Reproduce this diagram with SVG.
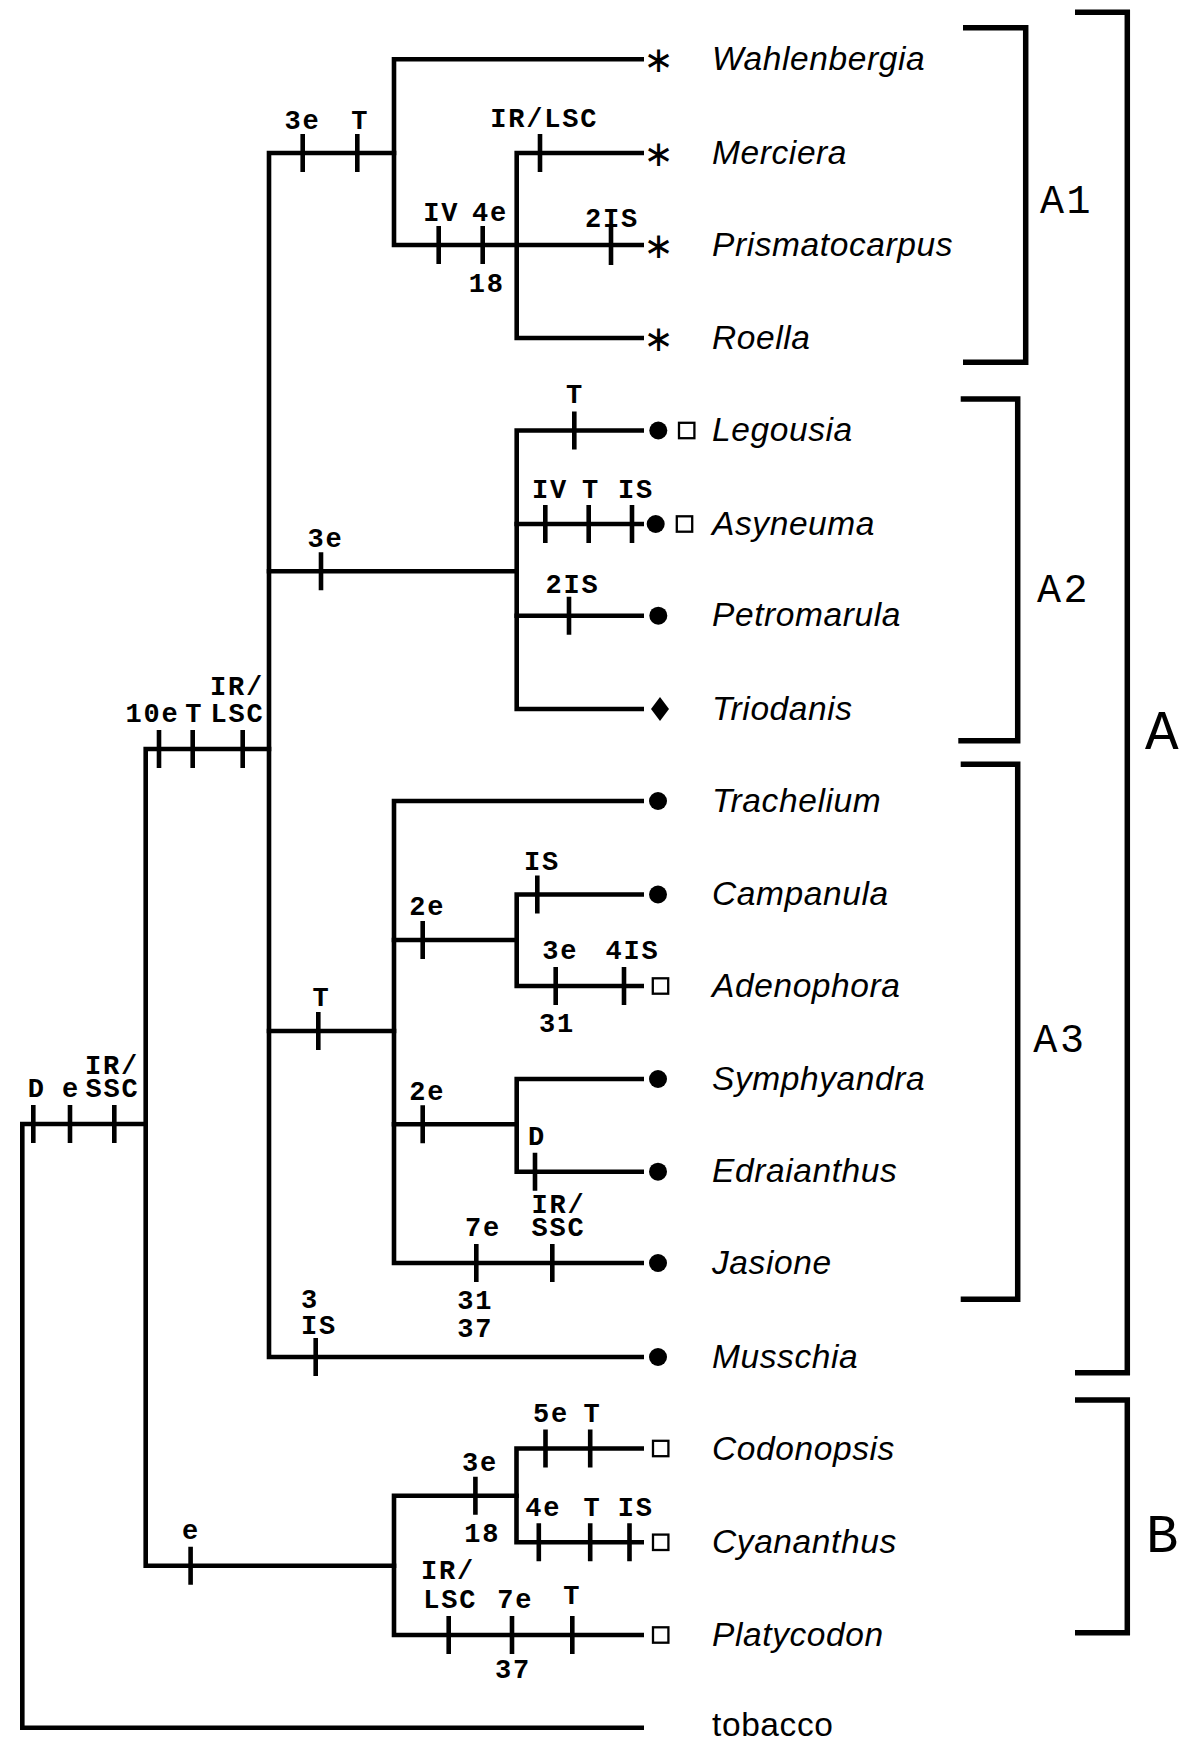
<svg xmlns="http://www.w3.org/2000/svg" width="1196" height="1749" viewBox="0 0 1196 1749">
<style>
.br{fill:none;stroke:#000;stroke-width:4.6;stroke-linecap:square;stroke-linejoin:miter}
.tk{stroke:#000;stroke-width:4.6}
.bk{fill:none;stroke:#000;stroke-width:5.5;stroke-linejoin:miter}
.lb{font-family:"Liberation Mono","Courier New",monospace;font-weight:bold;font-size:27px;letter-spacing:1.8px;text-anchor:middle;fill:#000}
.ls{font-family:"Liberation Mono","Courier New",monospace;font-weight:bold;font-size:27px;letter-spacing:1.8px;fill:#000}
.tx{font-family:"Liberation Sans",Arial,Helvetica,sans-serif;font-style:italic;font-size:33.5px;letter-spacing:0.6px;fill:#000}
.tb{font-family:"Liberation Sans",Arial,Helvetica,sans-serif;font-size:33.5px;letter-spacing:0.6px;fill:#000}
.cl{font-family:"Liberation Mono","Courier New",monospace;font-size:40px;letter-spacing:2.6px;fill:#000}
.ast{font-family:"DejaVu Sans",sans-serif;font-size:36px;text-anchor:middle;fill:#000}
.sq{fill:#fff;stroke:#000;stroke-width:2.3}
</style>
<g id="connectors">
<path class="br" d="M145.7 1124 H22.3 V1727.7 H641.7"/>
<path class="br" d="M269 749 H145.7 V1565.7 H394"/>
<path class="br" d="M394 153 H269 V1357 H641.7"/>
<path class="br" d="M269 571.3 H516.7"/>
<path class="br" d="M269 1031 H394"/>
<path class="br" d="M641.7 59.3 H394 V245 H641.7"/>
<path class="br" d="M641.7 153 H516.7 V338 H641.7"/>
<path class="br" d="M641.7 430.5 H516.7 V709 H641.7"/>
<path class="br" d="M516.7 524 H641.7 M516.7 615.7 H641.7"/>
<path class="br" d="M641.7 801 H394 V1263 H641.7"/>
<path class="br" d="M394 940 H516.7"/>
<path class="br" d="M641.7 894.5 H516.7 V986 H641.7"/>
<path class="br" d="M394 1124.3 H516.7"/>
<path class="br" d="M641.7 1079 H516.7 V1171.7 H641.7"/>
<path class="br" d="M516.5 1495.7 H394 V1635 H641.7"/>
<path class="br" d="M641.7 1448.5 H516.5 V1542.3 H641.7"/>
</g>
<g id="character-ticks">
<path class="tk" d="M302.7 134 v38 M357.3 134 v38 M540 134 v38 M438.7 226 v38 M482.7 226 v38 M611 227 v38
M321 552.3 v38 M574.3 411.5 v38 M545.3 505 v38 M588.7 505 v38 M632 505 v38 M569 596.7 v38
M318.3 1012 v38 M422.7 921 v38 M537.3 875.5 v38 M555.7 967 v38 M624 967 v38 M422.7 1105.3 v38 M535 1152.7 v38 M476.3 1244 v38 M552.3 1244 v38 M315.7 1338 v38
M159 730 v38 M192.7 730 v38 M242.7 730 v38 M33.3 1105 v38 M70 1105 v38 M114.3 1105 v38
M190.6 1546.7 v38 M475.4 1476.7 v38 M545.5 1429.5 v38 M590.2 1429.5 v38 M538.8 1523.3 v38 M590.2 1523.3 v38 M629.5 1523.3 v38 M448.7 1616 v38 M512 1616 v38 M572.3 1616 v38"/>
</g>
<g id="character-labels">
<text class="lb" x="302.6" y="129">3e</text>
<text class="lb" x="360.2" y="129">T</text>
<text class="lb" x="544.2" y="126.7">IR/LSC</text>
<text class="lb" x="441.2" y="220.7">IV</text>
<text class="lb" x="489.9" y="220.7">4e</text>
<text class="lb" x="486.7" y="292.3">18</text>
<text class="lb" x="611.9" y="226.7">2IS</text>
<text class="lb" x="574.9" y="403.3">T</text>
<text class="lb" x="549.9" y="497.7">IV</text>
<text class="lb" x="590.9" y="497.7">T</text>
<text class="lb" x="635.9" y="497.7">IS</text>
<text class="lb" x="325.4" y="546.7">3e</text>
<text class="lb" x="572.6" y="593.3">2IS</text>
<text class="lb" x="321.6" y="1006">T</text>
<text class="lb" x="427.2" y="915">2e</text>
<text class="lb" x="541.9" y="870">IS</text>
<text class="lb" x="560.2" y="959">3e</text>
<text class="lb" x="632.6" y="959">4IS</text>
<text class="lb" x="556.9" y="1032.3">31</text>
<text class="lb" x="427.2" y="1100">2e</text>
<text class="lb" x="536.9" y="1145">D</text>
<text class="lb" x="558.4" y="1212.7">IR/<tspan x="558.4" dy="23.3">SSC</tspan></text>
<text class="lb" x="482.9" y="1236">7e</text>
<text class="lb" x="475.2" y="1309">31<tspan x="475.2" dy="27.7">37</tspan></text>
<text class="ls" x="301" y="1307.7">3<tspan x="301" dy="26.3">IS</tspan></text>
<text class="lb" x="152.4" y="721.7">10e</text>
<text class="lb" x="194.2" y="721.7">T</text>
<text class="lb" x="236.9" y="695">IR/<tspan x="237.4" dy="26.7">LSC</tspan></text>
<text class="lb" x="36.7" y="1096.7">D</text>
<text class="lb" x="70.9" y="1096.7">e</text>
<text class="lb" x="111.9" y="1074.2">IR/<tspan x="112.6" dy="22.5">SSC</tspan></text>
<text class="lb" x="190.9" y="1539.3">e</text>
<text class="lb" x="479.9" y="1470.7">3e</text>
<text class="lb" x="482.2" y="1541.7">18</text>
<text class="lb" x="550.9" y="1422.3">5e</text>
<text class="lb" x="592.4" y="1422.3">T</text>
<text class="lb" x="543.3" y="1516">4e</text>
<text class="lb" x="592.4" y="1516">T</text>
<text class="lb" x="635.7" y="1516">IS</text>
<text class="lb" x="447.9" y="1579">IR/<tspan x="450.2" dy="28.7">LSC</tspan></text>
<text class="lb" x="515.2" y="1607.7">7e</text>
<text class="lb" x="572.3" y="1604">T</text>
<text class="lb" x="512.9" y="1677.7">37</text>
</g>
<g id="taxon-Wahlenbergia"><text class="ast" x="658.3" y="72">∗</text><text class="tx" x="712" y="69.8">Wahlenbergia</text></g>
<g id="taxon-Merciera"><text class="ast" x="658.3" y="166">∗</text><text class="tx" x="712" y="163.5">Merciera</text></g>
<g id="taxon-Prismatocarpus"><text class="ast" x="658.3" y="258">∗</text><text class="tx" x="712" y="255.5">Prismatocarpus</text></g>
<g id="taxon-Roella"><text class="ast" x="658.3" y="351">∗</text><text class="tx" x="712" y="348.5">Roella</text></g>
<g id="taxon-Legousia"><circle cx="658.3" cy="430.5" r="9"/><rect class="sq" x="679" y="422.8" width="15.4" height="15.4"/><text class="tx" x="712" y="441">Legousia</text></g>
<g id="taxon-Asyneuma"><circle cx="655.7" cy="524" r="9"/><rect class="sq" x="676.8" y="516.3" width="15.4" height="15.4"/><text class="tx" x="712" y="534.5">Asyneuma</text></g>
<g id="taxon-Petromarula"><circle cx="658.3" cy="615.7" r="9"/><text class="tx" x="712" y="626.2">Petromarula</text></g>
<g id="taxon-Triodanis"><path d="M660 697 L669 709 L660 721 L651 709 Z"/><text class="tx" x="712" y="719.5">Triodanis</text></g>
<g id="taxon-Trachelium"><circle cx="658" cy="801" r="9"/><text class="tx" x="712" y="811.5">Trachelium</text></g>
<g id="taxon-Campanula"><circle cx="658" cy="894.5" r="9"/><text class="tx" x="712" y="905">Campanula</text></g>
<g id="taxon-Adenophora"><rect class="sq" x="652.8" y="978.3" width="15.4" height="15.4"/><text class="tx" x="712" y="996.5">Adenophora</text></g>
<g id="taxon-Symphyandra"><circle cx="658" cy="1079" r="9"/><text class="tx" x="712" y="1089.5">Symphyandra</text></g>
<g id="taxon-Edraianthus"><circle cx="658" cy="1171.7" r="9"/><text class="tx" x="712" y="1182.2">Edraianthus</text></g>
<g id="taxon-Jasione"><circle cx="658" cy="1263" r="9"/><text class="tx" x="712" y="1273.5">Jasione</text></g>
<g id="taxon-Musschia"><circle cx="658" cy="1357" r="9"/><text class="tx" x="712" y="1367.5">Musschia</text></g>
<g id="taxon-Codonopsis"><rect class="sq" x="653" y="1440.8" width="15.4" height="15.4"/><text class="tx" x="712" y="1459.5">Codonopsis</text></g>
<g id="taxon-Cyananthus"><rect class="sq" x="653" y="1534.6" width="15.4" height="15.4"/><text class="tx" x="712" y="1553">Cyananthus</text></g>
<g id="taxon-Platycodon"><rect class="sq" x="653" y="1627.3" width="15.4" height="15.4"/><text class="tx" x="712" y="1645.7">Platycodon</text></g>
<g id="taxon-tobacco"><text class="tb" x="712" y="1735.5">tobacco</text></g>
<g id="clade-A1"><path class="bk" d="M963 27.7 H1025.7 V362.3 H963"/><text class="cl" x="1040" y="213.3">A1</text></g>
<g id="clade-A2"><path class="bk" d="M960.7 399 H1017.7 V740.7 H958.3"/><text class="cl" x="1037" y="602">A2</text></g>
<g id="clade-A3"><path class="bk" d="M960.7 764.3 H1017.7 V1299.3 H960.7"/><text class="cl" x="1033.3" y="1051.7">A3</text></g>
<g id="clade-A"><path class="bk" d="M1075 12.3 H1127.3 V1372.7 H1075"/><text class="cl" x="1145" y="749.3" style="font-size:56px">A</text></g>
<g id="clade-B"><path class="bk" d="M1075 1400 H1127.3 V1632.7 H1075"/><text class="cl" x="1146" y="1552.3" style="font-size:54px">B</text></g>
</svg>
